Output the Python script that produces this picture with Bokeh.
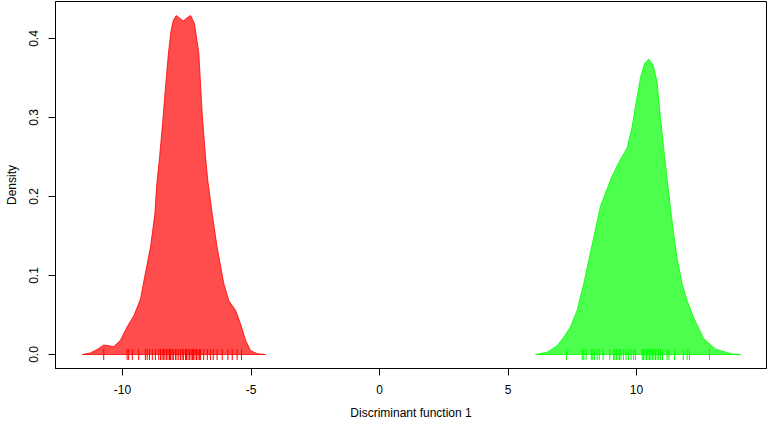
import math
from bokeh.plotting import figure
from bokeh.models import Range1d, FixedTicker
from bokeh.embed import file_html
from bokeh.resources import INLINE

# ---- data ----
red_x = [-11.56, -11.25, -10.95, -10.73, -10.34, -10.08, -9.82, -9.56, -9.30, -9.11,
         -8.91, -8.74, -8.67, -8.56, -8.44, -8.33, -8.21, -8.11, -8.02, -7.91,
         -7.78, -7.64, -7.50, -7.35, -7.20, -7.03, -6.90, -6.77, -6.68, -6.51,
         -6.32, -6.06, -5.86, -5.60, -5.41, -5.21, -5.02, -4.76, -4.44]
red_y = [0.000, 0.002, 0.007, 0.012, 0.010, 0.018, 0.035, 0.049, 0.070, 0.103,
         0.136, 0.178, 0.214, 0.249, 0.292, 0.337, 0.382, 0.410, 0.423, 0.429,
         0.426, 0.422, 0.426, 0.429, 0.419, 0.381, 0.305, 0.250, 0.220, 0.178,
         0.136, 0.090, 0.068, 0.056, 0.039, 0.018, 0.005, 0.001, 0.000]

green_x = [6.07, 6.53, 6.91, 7.17, 7.43, 7.69, 7.95, 8.14, 8.34, 8.60,
           8.86, 9.00, 9.31, 9.64, 9.83, 10.00, 10.16, 10.31, 10.48, 10.65,
           10.80, 10.93, 11.06, 11.20, 11.32, 11.45, 11.58, 11.78, 11.97, 12.23,
           12.62, 13.07, 13.66, 14.05]
green_y = [0.000, 0.003, 0.011, 0.022, 0.035, 0.056, 0.090, 0.119, 0.149, 0.188,
           0.210, 0.222, 0.243, 0.262, 0.288, 0.322, 0.351, 0.368, 0.374, 0.366,
           0.345, 0.300, 0.260, 0.220, 0.186, 0.152, 0.122, 0.089, 0.068, 0.046,
           0.020, 0.007, 0.001, 0.000]

red_rug = [-10.73, -9.82, -9.76, -9.62, -9.37, -9.11, -9.04, -8.95, -8.84, -8.72,
           -8.59, -8.52, -8.46, -8.40, -8.35, -8.29, -8.23, -8.17, -8.13, -8.07,
           -8.02, -7.94, -7.88, -7.81, -7.74, -7.68, -7.63, -7.55, -7.51, -7.45,
           -7.39, -7.33, -7.28, -7.24, -7.18, -7.12, -7.06, -7.00, -6.96, -6.84,
           -6.70, -6.58, -6.47, -6.32, -6.12, -5.90, -5.73, -5.54, -5.37]
green_rug = [7.28, 7.89, 7.95, 8.04, 8.24, 8.30, 8.37, 8.47, 8.55, 8.70,
             8.96, 9.11, 9.16, 9.22, 9.28, 9.34, 9.40, 9.49, 9.59, 9.69,
             9.79, 9.88, 9.96, 10.22, 10.27, 10.33, 10.39, 10.45, 10.51, 10.56,
             10.62, 10.68, 10.74, 10.80, 10.86, 10.93, 11.01, 11.19, 11.26, 11.48,
             11.82, 11.97, 12.06, 12.84]

x_ticks = [-10, -5, 0, 5, 10]
x_tick_labels = ["-10", "-5", "0", "5", "10"]
y_ticks = [0.0, 0.1, 0.2, 0.3, 0.4]
y_tick_labels = ["0.0", "0.1", "0.2", "0.3", "0.4"]
x_title = "Discriminant function 1"
y_title = "Density"

FONT = "Liberation Sans"

p = figure(width=767, height=423, output_backend="svg", toolbar_location=None,
           x_range=Range1d(-12.607, 15.058), y_range=Range1d(-0.0177, 0.4468),
           min_border_left=55, min_border_right=1, min_border_top=1, min_border_bottom=55)
p.xgrid.visible = False
p.ygrid.visible = False
p.outline_line_color = "black"
p.outline_line_width = 1
p.background_fill_color = "white"
p.border_fill_color = "white"

p.patch(red_x, red_y, fill_color="#FF0000", fill_alpha=0.7, line_color="#FF0000", line_alpha=0.8, line_width=1)
p.patch(green_x, green_y, fill_color="#00FF00", fill_alpha=0.7, line_color="#00FF00", line_alpha=0.8, line_width=1)

p.scatter(red_rug, [0] * len(red_rug), marker="dash", angle=math.pi / 2, size=11,
          line_color="#FF0000", line_width=1)
p.scatter(green_rug, [0] * len(green_rug), marker="dash", angle=math.pi / 2, size=11,
          line_color="#00FF00", line_width=1)

for ax, ticks, labels in ((p.xaxis[0], x_ticks, x_tick_labels), (p.yaxis[0], y_ticks, y_tick_labels)):
    ax.ticker = FixedTicker(ticks=ticks)
    ax.major_label_overrides = {t: l for t, l in zip(ticks, labels)}
    ax.minor_tick_line_color = None
    ax.major_tick_in = 0
    ax.major_tick_out = 7
    ax.axis_line_color = "black"
    ax.major_tick_line_color = "black"
    ax.major_label_text_font = FONT
    ax.major_label_text_font_size = "12px"
    ax.major_label_text_color = "black"
    ax.axis_label_text_font = FONT
    ax.axis_label_text_font_size = "12px"
    ax.axis_label_text_font_style = "normal"
    ax.axis_label_text_color = "black"

p.xaxis.axis_label = x_title
p.yaxis.axis_label = y_title
p.yaxis.major_label_orientation = "vertical"
p.xaxis.major_label_standoff = 9
p.xaxis.axis_label_standoff = 9
p.yaxis.major_label_standoff = 10
p.yaxis.axis_label_standoff = 8

open("out.html", "w").write(file_html(p, INLINE))
